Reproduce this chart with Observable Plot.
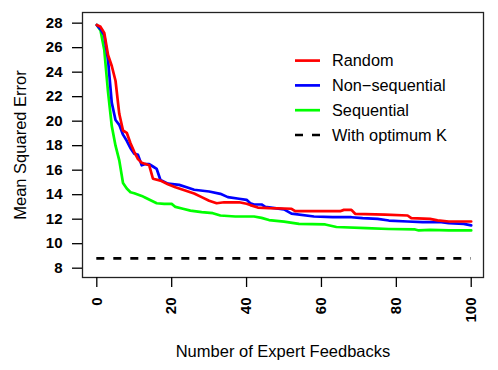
<!DOCTYPE html>
<html>
<head>
<meta charset="utf-8">
<script src="https://cdn.jsdelivr.net/npm/d3@7"></script>
<script src="https://cdn.jsdelivr.net/npm/@observablehq/plot@0.6"></script>
<style>
  body { margin: 0; background: white; }
  #wrap { position: relative; width: 498px; height: 370px; font-family: "Liberation Sans", Arial, sans-serif; }
  #legend { position: absolute; left: 290px; top: 48px; }
</style>
</head>
<body>
<div id="wrap"></div>
<script>
// Series data
const randomX = [0,1,2,3,4,5,6,7,8,9,10,11,12,13,14,15,17,19,21,23,26,28,30,32,34,38,40,41,43,46,52,53,65,66,68,69,77,83,84,89,91,94,100];
const randomY = [27.85,27.7,27.2,25.4,24.5,23.3,20.6,19.24,19.05,18.2,17.5,16.9,16.6,16.5,16.4,15.3,15.15,14.85,14.6,14.4,14.1,13.8,13.5,13.3,13.38,13.38,13.26,13.15,12.95,12.9,12.85,12.65,12.65,12.76,12.76,12.44,12.38,12.3,12.08,12.03,11.9,11.81,11.81];

const nonseqX = [0,1,2,3,4,5,6,7,8,9,10,11,12,13,14,15,16,17,19,22,24,26,30,33,35,38,40,41,42,44,45,47,50,52,58,63,68,71,75,78,83,87,92,94,98,100];
const nonseqY = [27.85,27.5,27.0,25.0,21.5,20.1,19.7,18.9,18.4,17.8,17.35,17.25,16.4,16.5,16.5,16.3,16.1,15.2,14.9,14.8,14.6,14.4,14.26,14.07,13.8,13.67,13.58,13.3,13.2,13.2,13.0,12.93,12.8,12.45,12.22,12.16,12.16,12.08,12.03,11.89,11.81,11.76,11.76,11.67,11.62,11.49];

const seqX = [0,1,2,3,4,5,6,7,8,9,10,12,13,16,18,20,21,23,25,28,31,33,37,42,44,46,50,54,61,64,72,78,85,86,89,94,100];
const seqY = [27.85,27.4,25.8,22.4,19.6,18.0,16.8,14.95,14.5,14.2,14.12,13.9,13.75,13.3,13.25,13.25,13.0,12.85,12.7,12.57,12.49,12.3,12.22,12.22,12.11,11.93,11.8,11.62,11.57,11.36,11.27,11.2,11.16,11.08,11.13,11.08,11.08];

const optimumK = 8.8;
const optimumRange = [0, 100];

const xTicks = [0, 20, 40, 60, 80, 100];
const yTicks = [8, 10, 12, 14, 16, 18, 20, 22, 24, 26, 28];

const seriesNames = ["Random", "Non\u2212sequential", "Sequential", "With optimum K"];
const seriesColors = ["#ff0000", "#0000ff", "#00ff00", "#000000"];

const xLabel = "Number of Expert Feedbacks";
const yLabel = "Mean Squared Error";

const toRows = (xs, ys) => xs.map((x, i) => ({x, y: ys[i]}));
const rowsRandom = toRows(randomX, randomY);
const rowsNonseq = toRows(nonseqX, nonseqY);
const rowsSeq = toRows(seqX, seqY);

const lw = 2.7;
const chart = Plot.plot({
  width: 498,
  height: 370,
  marginLeft: 82,
  marginRight: 15,
  marginTop: 12,
  marginBottom: 93,
  style: { fontFamily: "'Liberation Sans', Arial, sans-serif", fontSize: "15px", color: "black", background: "white" },
  x: { domain: [-3.82, 103.28] },
  y: { domain: [7.24, 28.87] },
  marks: [
    Plot.ruleY([optimumK], { x1: optimumRange[0], x2: optimumRange[1], stroke: seriesColors[3], strokeWidth: lw, strokeDasharray: "8,9" }),
    Plot.line(rowsSeq, { x: "x", y: "y", stroke: seriesColors[2], strokeWidth: lw }),
    Plot.line(rowsNonseq, { x: "x", y: "y", stroke: seriesColors[1], strokeWidth: lw }),
    Plot.line(rowsRandom, { x: "x", y: "y", stroke: seriesColors[0], strokeWidth: lw }),
    Plot.frame({ stroke: "#222", strokeWidth: 1.3 }),
    Plot.axisX(xTicks, { tickSize: 10, tickPadding: 10, tickRotate: -90, fontWeight: "bold", fontSize: 15, label: null, strokeWidth: 1.3 }),
    Plot.axisY(yTicks, { tickSize: 10, tickPadding: 10, fontWeight: "bold", fontSize: 15, label: null, strokeWidth: 1.3 }),
    Plot.text([xLabel], { text: d => d, frameAnchor: "bottom", dy: 74, textAnchor: "middle", lineAnchor: "middle", fontSize: 16.5 }),
    Plot.text([yLabel], { text: d => d, frameAnchor: "left", dx: -62, rotate: -90, textAnchor: "middle", lineAnchor: "middle", fontSize: 16.5 })
  ]
});
const wrap = document.getElementById("wrap");
wrap.appendChild(chart);

// Legend overlay (SVG), placed inside the plot area like the original
const leg = d3.select(wrap).append("svg").attr("id", "legend")
  .attr("width", 200).attr("height", 110);
const rowH = 24.8;
seriesNames.forEach((name, i) => {
  const cy = 12.6 + i * rowH;
  leg.append("line").attr("x1", 5).attr("x2", 30).attr("y1", cy).attr("y2", cy)
    .attr("stroke", seriesColors[i]).attr("stroke-width", lw)
    .attr("stroke-dasharray", i === 3 ? "8,9" : null);
  leg.append("text").attr("x", 42).attr("y", cy).attr("dy", "0.35em")
    .attr("font-size", 16.3).attr("font-family", "'Liberation Sans', Arial, sans-serif")
    .attr("fill", "black").text(name);
});
</script>
</body>
</html>
